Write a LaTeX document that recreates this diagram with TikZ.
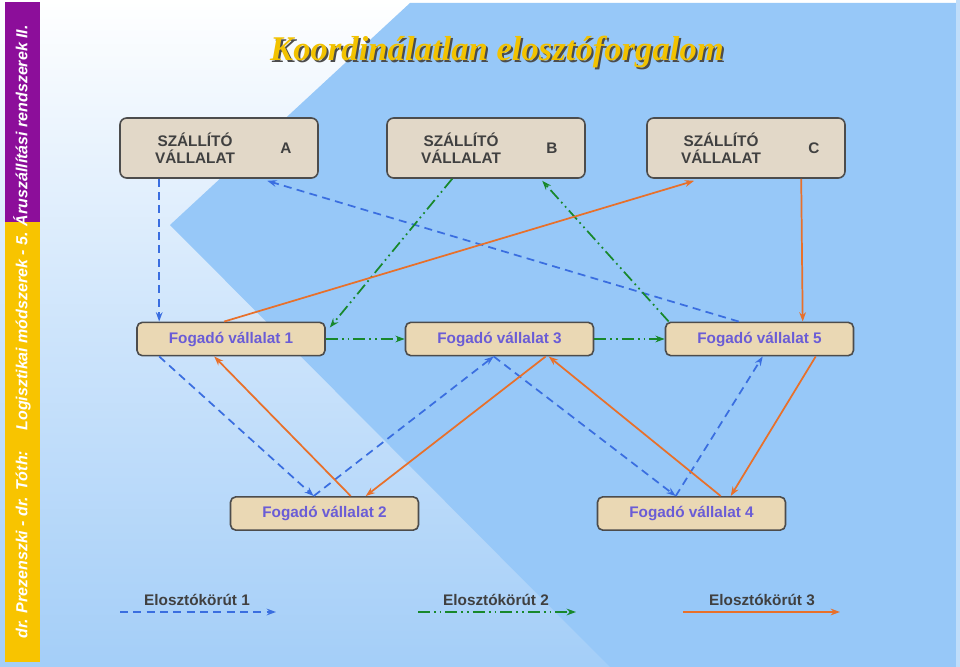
\documentclass[tikz,border=0pt]{standalone}
\usepackage{fontspec}
\setmainfont{Liberation Sans}
\newfontfamily\titlefont{Liberation Serif}
\usetikzlibrary{calc,arrows.meta}
\definecolor{bgblue}{HTML}{A4CEF8}
\definecolor{polyblue}{HTML}{97C8F8}
\definecolor{sidepurple}{HTML}{8C0E9A}
\definecolor{sideyellow}{HTML}{F8C400}
\definecolor{sboxfill}{HTML}{E2D8C8}
\definecolor{fboxfill}{HTML}{EAD8B4}
\definecolor{ftext}{HTML}{6A5CD6}
\definecolor{stext}{HTML}{404040}
\definecolor{rblue}{HTML}{3A6EE0}
\definecolor{rgreen}{HTML}{18882C}
\definecolor{rorange}{HTML}{E8702A}
\definecolor{titlegold}{HTML}{F2C200}
\tikzset{
  sbox/.style={draw=black!70,line width=1.2pt,rounded corners=5pt,fill=sboxfill,minimum width=148.5pt,minimum height=45pt},
  fbox/.style={draw=black!70,line width=1.2pt,rounded corners=4pt,fill=fboxfill,minimum width=141pt,minimum height=25pt,text=ftext,font=\bfseries\fontsize{11.5}{13}\selectfont},
  stxt/.style={text=stext,font=\bfseries\fontsize{11.5}{13}\selectfont,align=center},
  ra/.style={draw=rblue,line width=1.3pt,dash pattern=on 6pt off 4pt,-{Stealth[length=7pt,width=5pt]}},
  rb/.style={draw=rgreen,line width=1.3pt,dash pattern=on 9pt off 3pt on 1.3pt off 3pt on 1.3pt off 3pt,-{Stealth[length=7pt,width=5pt]}},
  rc/.style={draw=rorange,line width=1.3pt,-{Stealth[length=7pt,width=5pt]}},
  legtxt/.style={text=stext,font=\bfseries\fontsize{11.5}{13}\selectfont}
}
\begin{document}
\begin{tikzpicture}[x=0.75pt,y=-0.75pt]
\useasboundingbox (0,0) rectangle (960,667);
\shade[top color=white,bottom color=bgblue,middle color=white!45!bgblue] (0,0) rectangle (960,667);
\fill[polyblue] (170,225) -- (410,3) -- (956,3) -- (956,667) -- (610,667) -- cycle;
\fill[bgblue!70!white] (956,0) rectangle (960,667);
% sidebar
\fill[sidepurple] (5,2) rectangle (40,222);
\fill[sideyellow] (5,222) rectangle (40,662);
\node[rotate=90,text=white,font=\bfseries\itshape\fontsize{12}{14}\selectfont] (side) at (22,332) {dr. Prezenszki - dr. Tóth:\quad\ Logisztikai módszerek - 5. Áruszállítási rendszerek II.};
% title
\node[font=\titlefont\bfseries\itshape\fontsize{26}{30}\selectfont,text=black!70] (titleshadow) at (499,54) {Koordinálatlan elosztóforgalom};
\node[font=\titlefont\bfseries\itshape\fontsize{26}{30}\selectfont,text=titlegold] (title) at (497,52) {Koordinálatlan elosztóforgalom};
% supplier boxes
\node[sbox] (A) at (219,148) {};
\node[stxt] (At) at (195,148) {SZÁLLÍTÓ\\VÁLLALAT};
\node[stxt] (Al) at (286,148) {A};
\node[sbox] (B) at (486,148) {};
\node[stxt] (Bt) at (461,148) {SZÁLLÍTÓ\\VÁLLALAT};
\node[stxt] (Bl) at (552,148) {B};
\node[sbox] (C) at (746,148) {};
\node[stxt] (Ct) at (721,148) {SZÁLLÍTÓ\\VÁLLALAT};
\node[stxt] (Cl) at (814,148) {C};
% receivers
\node[fbox] (F1) at (231,339) {Fogadó vállalat 1};
\node[fbox] (F3) at (499.5,339) {Fogadó vállalat 3};
\node[fbox] (F5) at (759.5,339) {Fogadó vállalat 5};
\node[fbox] (F2) at (324.5,513.5) {Fogadó vállalat 2};
\node[fbox] (F4) at (691.5,513.5) {Fogadó vállalat 4};
% route 1 blue
\draw[ra] ($(A.south west)+(40,0)$) -- ($(F1.north west)+(23,0)$);
\draw[ra] ($(F5.north west)+(74,0)$) -- ($(A.south west)+(148,2)$);
\draw[ra] ($(F1.south west)+(23,0)$) -- ($(F2.north west)+(84,0)$);
\draw[ra] ($(F2.north west)+(84,0)$) -- ($(F3.south west)+(89,0)$);
\draw[ra] ($(F3.south west)+(89,0)$) -- ($(F4.north west)+(79,0)$);
\draw[ra] ($(F4.north west)+(79,0)$) -- ($(F5.south west)+(98,0)$);
% route 2 green
\draw[rb] ($(B.south west)+(66,0)$) -- ($(F1.north east)+(4,6)$);
\draw[rb] (F1.east) -- (F3.west);
\draw[rb] (F3.east) -- (F5.west);
\draw[rb] ($(F5.north west)+(4,0)$) -- ($(B.south west)+(156,2)$);
% route 3 orange
\draw[rc] ($(C.south west)+(155,0)$) -- ($(F5.north west)+(138,0)$);
\draw[rc] ($(F5.south west)+(151,0)$) -- ($(F4.north west)+(134,0)$);
\draw[rc] ($(F4.north west)+(124,0)$) -- ($(F3.south west)+(144,0)$);
\draw[rc] ($(F3.south west)+(141,0)$) -- ($(F2.north west)+(136,0)$);
\draw[rc] ($(F2.north west)+(121,0)$) -- ($(F1.south west)+(78,0)$);
\draw[rc] ($(F1.north west)+(88,0)$) -- ($(C.south west)+(48,2)$);
% legend
\node[legtxt] (L1) at (197,600) {Elosztókörút 1};
\node[legtxt] (L2) at (496,600) {Elosztókörút 2};
\node[legtxt] (L3) at (762,600) {Elosztókörút 3};
\coordinate (L1a) at (120,612); \coordinate (L1b) at (276,612);
\coordinate (L2a) at (418,612); \coordinate (L2b) at (576,612);
\coordinate (L3a) at (683,612); \coordinate (L3b) at (840,612);
\draw[ra] (L1a) -- (L1b);
\draw[rb] (L2a) -- (L2b);
\draw[rc] (L3a) -- (L3b);
\end{tikzpicture}
\end{document}
